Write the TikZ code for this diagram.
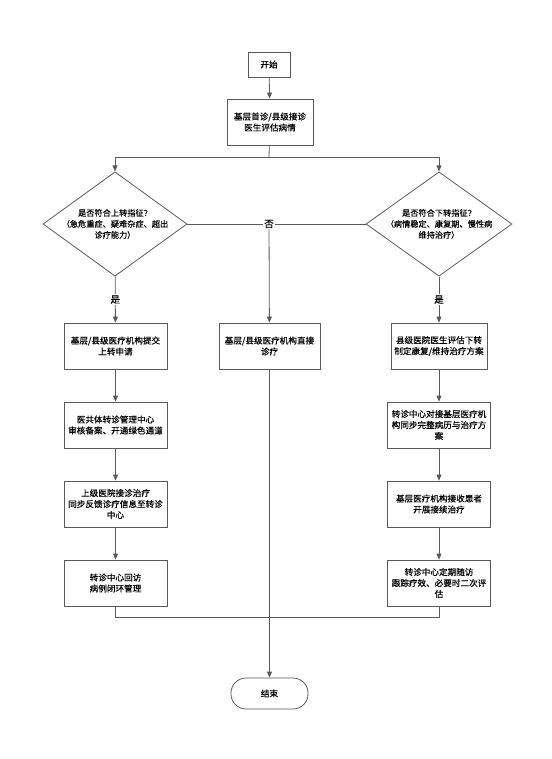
\documentclass[tikz,border=0pt]{standalone}
\usepackage{fontspec}
\usepackage{tikz}
\usetikzlibrary{arrows.meta, shapes.geometric}
\newfontfamily\cjk{Noto Sans CJK SC}[FakeBold=0.4]
\definecolor{lineGray}{gray}{0.35}
\tikzstyle{fStartStop} = [rectangle, minimum width=42pt, minimum height=25pt, inner sep=0pt, text centered, draw=lineGray, line width=0.8pt, font=\cjk\fontsize{8.6}{11}\selectfont]
\tikzstyle{fEnd} = [rectangle, rounded corners=15pt, minimum width=77pt, minimum height=31pt, inner sep=0pt, text centered, draw=lineGray, line width=0.8pt, font=\cjk\fontsize{8.6}{11}\selectfont]
\tikzstyle{fProcess} = [rectangle, minimum width=103pt, minimum height=46pt, inner sep=0pt, align=center, draw=lineGray, line width=0.8pt, font=\cjk\fontsize{8.6}{11}\selectfont]
\tikzstyle{fDecision} = [diamond, minimum width=144pt, minimum height=85pt, inner sep=-8pt, align=center, draw=lineGray, line width=0.8pt, font=\cjk\fontsize{8.2}{11}\selectfont]
\tikzstyle{fLabel} = [fill=white, inner sep=1pt, font=\cjk\fontsize{9.5}{11}\selectfont]
\tikzstyle{fLine} = [draw=lineGray, line width=0.8pt]
\tikzstyle{fArrow} = [fLine, -{Triangle[length=6pt,width=5pt]}]

\begin{document}
\begin{tikzpicture}[x=1pt, y=-1pt, node distance=79pt]
    \useasboundingbox (0,0) rectangle (551,759);

    \node (start) [fStartStop] at (269,64.5) {开始};
    \node (assess) [fProcess, minimum width=86pt] at (270,122) {基层首诊/县级接诊\\医生评估病情};
    \node (up) [fDecision] at (115,224) {是否符合上转指征？\\（急危重症、疑难杂症、超出\\诊疗能力）};
    \node (down) [fDecision, minimum width=146pt] at (439,224) {是否符合下转指征？\\（病情稳定、康复期、慢性病\\维持治疗）};

    % upward referral
    \node (upApply) [fProcess] at (115.5,346) {基层/县级医疗机构提交\\上转申请};
    \node (upCheck) [fProcess, below of=upApply] {医共体转诊管理中心\\审核备案、开通绿色通道};
    \node (upTreat) [fProcess, below of=upCheck] {上级医院接诊治疗\\同步反馈诊疗信息至转诊\\中心};
    \node (upVisit) [fProcess, below of=upTreat] {转诊中心回访\\病例闭环管理};

    % direct treatment
    \node (direct) [fProcess, minimum width=101pt] at (269.5,346) {基层/县级医疗机构直接\\诊疗};

    % downward referral
    \node (downPlan) [fProcess, minimum width=96pt] at (439,346) {县级医院医生评估下转\\制定康复/维持治疗方案};
    \node (downLink) [fProcess, below of=downPlan] {转诊中心对接基层医疗机\\构同步完整病历与治疗方\\案};
    \node (downCare) [fProcess, below of=downLink] {基层医疗机构接收患者\\开展接续治疗};
    \node (downVisit) [fProcess, below of=downCare] {转诊中心定期随访\\跟踪疗效、必要时二次评\\估};

    \node (stop) [fEnd] at (269.5,693.5) {结束};

    \coordinate (split) at (269,157);
    \coordinate (merge) at (269,617);

    \draw [fArrow] (start) -- (assess);
    \draw [fLine] (assess) -- (split);
    \draw [fArrow] (split) -| (up);
    \draw [fArrow] (split) -| (down);
    \draw [fLine] (up.east) -- (down.west);
    \node (no) [fLabel] at (269,224) {否};
    \draw [fArrow] (no) -- (direct);
    \draw [fArrow] (up) -- node[fLabel] {是} (upApply);
    \draw [fArrow] (down) -- node[fLabel] {是} (downPlan);
    \draw [fArrow] (upApply) -- (upCheck);
    \draw [fArrow] (upCheck) -- (upTreat);
    \draw [fArrow] (upTreat) -- (upVisit);
    \draw [fArrow] (downPlan) -- (downLink);
    \draw [fArrow] (downLink) -- (downCare);
    \draw [fArrow] (downCare) -- (downVisit);
    \draw [fLine] (upVisit) |- (merge);
    \draw [fLine] (downVisit) |- (merge);
    \draw [fArrow] (direct) -- (stop);
\end{tikzpicture}
\end{document}
